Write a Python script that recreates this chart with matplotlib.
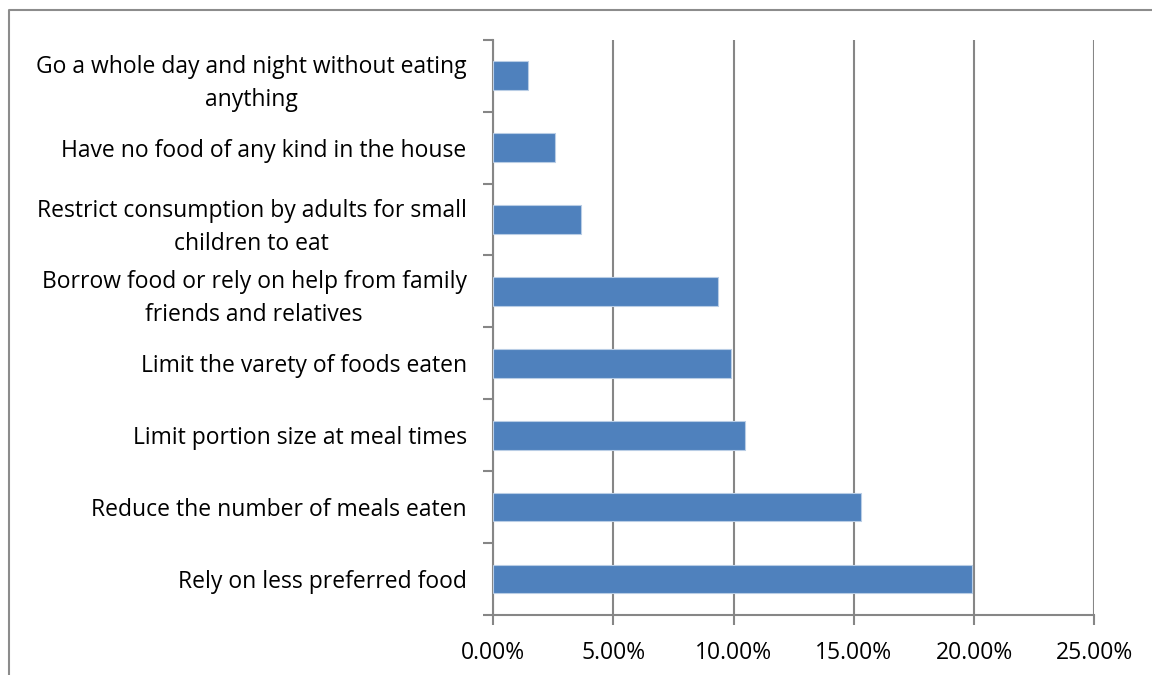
import numpy as np
import matplotlib
matplotlib.use('Agg')
import matplotlib.pyplot as plt
from matplotlib.ticker import FuncFormatter, FixedLocator
from matplotlib.lines import Line2D

plt.rcParams['font.family'] = ['Open Sans', 'DejaVu Sans']

# Coping strategies, bottom to top as drawn
strategies = [
    'Rely on less preferred food',
    'Reduce the number of meals eaten',
    'Limit portion size at meal times',
    'Limit the varety of foods eaten',
    'Borrow food or rely on help from family\nfriends and relatives',
    'Restrict consumption by adults for small\nchildren to eat',
    'Have no food of any kind in the house',
    'Go a whole day and night without eating\nanything',
]
shares = [0.1990, 0.1530, 0.1048, 0.0990, 0.0936, 0.0367, 0.0256, 0.0147]

grey = '#868686'
bar_color = '#4F81BD'

fig = plt.figure(figsize=(11.52, 6.75), dpi=100)
ax = fig.add_axes([0.428, 0.089, 0.522, 0.852])

y = np.arange(len(strategies))
ax.barh(y, shares, height=0.4, color=bar_color, edgecolor='#B9CDE5', linewidth=0.8, zorder=3)

ax.set_xlim(0, 0.25)
ax.set_ylim(-0.5, len(strategies) - 0.5)
ax.set_xticks(np.arange(0, 0.2501, 0.05))
ax.xaxis.set_major_formatter(FuncFormatter(lambda v, p: f'{v * 100:.2f}%'))
ax.grid(axis='x', color=grey, linewidth=1.5, zorder=0)

ax.set_yticks(y)
ax.set_yticklabels(strategies)
ax.yaxis.set_minor_locator(FixedLocator(np.arange(-0.5, len(strategies), 1.0)))
ax.tick_params(axis='y', which='major', length=0, pad=19, labelsize=16.5)
ax.tick_params(axis='y', which='minor', length=7, width=1.5, color=grey)
ax.tick_params(axis='x', length=7, width=1.5, color=grey, labelsize=16.5, pad=12)
for lab in ax.get_yticklabels():
    lab.set_multialignment('center')
    lab.set_linespacing(1.5)

for side in ['top', 'right']:
    ax.spines[side].set_visible(False)
for side in ['left', 'bottom']:
    ax.spines[side].set_color(grey)
    ax.spines[side].set_linewidth(1.5)

# outer chart frame (only left and top edges are in view)
W, H = 1152, 675
fig.add_artist(Line2D([9 / W, 9 / W, 1.0], [0.0, 1 - 10 / H, 1 - 10 / H],
                      transform=fig.transFigure, color='#8c8c8c', linewidth=1.5))

fig.savefig('out.png', dpi=100)
